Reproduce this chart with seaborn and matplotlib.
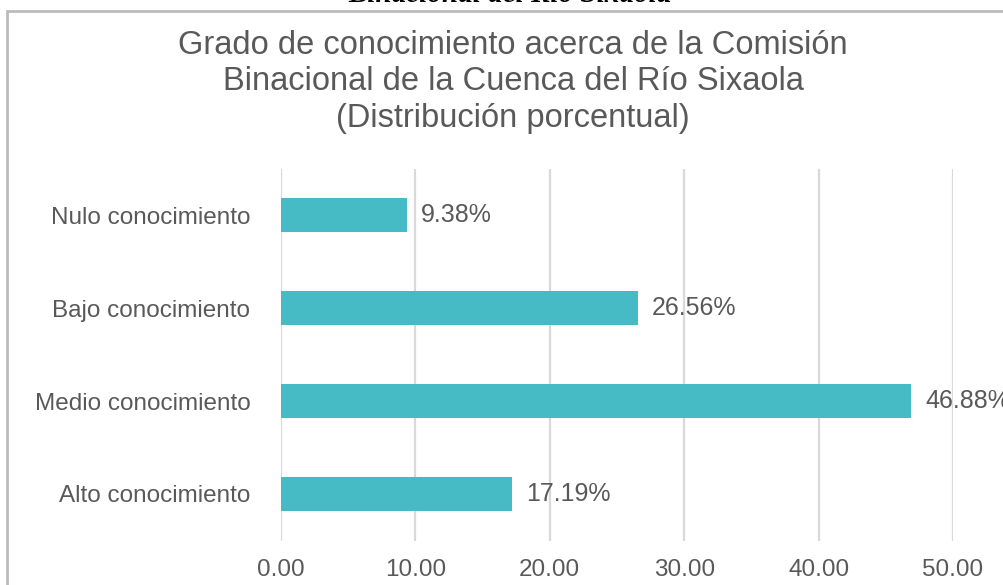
"""Grado de conocimiento acerca de la Comisión Binacional - horizontal bar chart."""

import matplotlib

matplotlib.use("Agg")
import matplotlib.pyplot as plt
import pandas as pd
import seaborn as sns
from matplotlib.patches import Rectangle

categories = [
    "Nulo conocimiento",
    "Bajo conocimiento",
    "Medio conocimiento",
    "Alto conocimiento",
]
percentages = [9.38, 26.56, 46.88, 17.19]
x_ticks = [0, 10, 20, 30, 40, 50]

TEXT = "#595959"
BAR = "#47BBC5"
GRID = "#D9D9D9"

sns.set_theme(style="white")
plt.rcParams["font.family"] = ["Liberation Sans", "DejaVu Sans"]

df = pd.DataFrame({"categoria": categories, "porcentaje": percentages})

fig = plt.figure(figsize=(10.04, 5.85), dpi=100)
ax = fig.add_axes([281 / 1004, 44.5 / 585, 672 / 1004, 372 / 585])

sns.barplot(
    data=df,
    x="porcentaje",
    y="categoria",
    orient="h",
    color=BAR,
    saturation=1,
    width=0.355,
    ax=ax,
    zorder=3,
)
for bar in ax.patches:
    bar.set_edgecolor("none")

labels = ax.bar_label(ax.containers[0], fmt="%.2f%%", padding=10,
                      fontsize=18, color=TEXT)
for lab in labels:
    lab.set_clip_on(False)

ax.set_xlim(0, 50)
ax.set_ylim(3.5, -0.5)
ax.set_xticks(x_ticks)
ax.set_xticklabels([f"{t:.2f}" for t in x_ticks])
ax.xaxis.grid(True, color=GRID, linewidth=1.6, zorder=0)
ax.set_axisbelow(True)
for side in ["top", "right", "bottom", "left"]:
    ax.spines[side].set_visible(False)
ax.tick_params(axis="x", labelsize=17.5, colors=TEXT, length=0, pad=13)
ax.tick_params(axis="y", labelsize=17.5, colors=TEXT, length=0, pad=22)
ax.set_xlabel("")
ax.set_ylabel("")

fig.text(
    513 / 1004, 1 - 82 / 585,
    "Grado de conocimiento acerca de la Comisión\n"
    "Binacional de la Cuenca del Río Sixaola\n"
    "(Distribución porcentual)",
    ha="center", va="center", fontsize=23.5, color=TEXT, linespacing=1.23,
)

# caption cut off at the top of the crop
fig.text(
    510 / 1004, 1 - 2 / 585, "Binacional del Río Sixaola",
    ha="center", va="baseline", fontsize=21, fontweight="bold",
    fontstyle="italic", family=["Liberation Serif", "DejaVu Serif"], color="black",
)

# chart frame, only left and top edges inside the crop
fig.patches.append(
    Rectangle((7 / 1004, -0.1), 1.2, 1 - 11 / 585 + 0.1,
              transform=fig.transFigure, fill=False,
              edgecolor="#BBBBBB", linewidth=2)
)

fig.savefig("out.png", dpi=100)
